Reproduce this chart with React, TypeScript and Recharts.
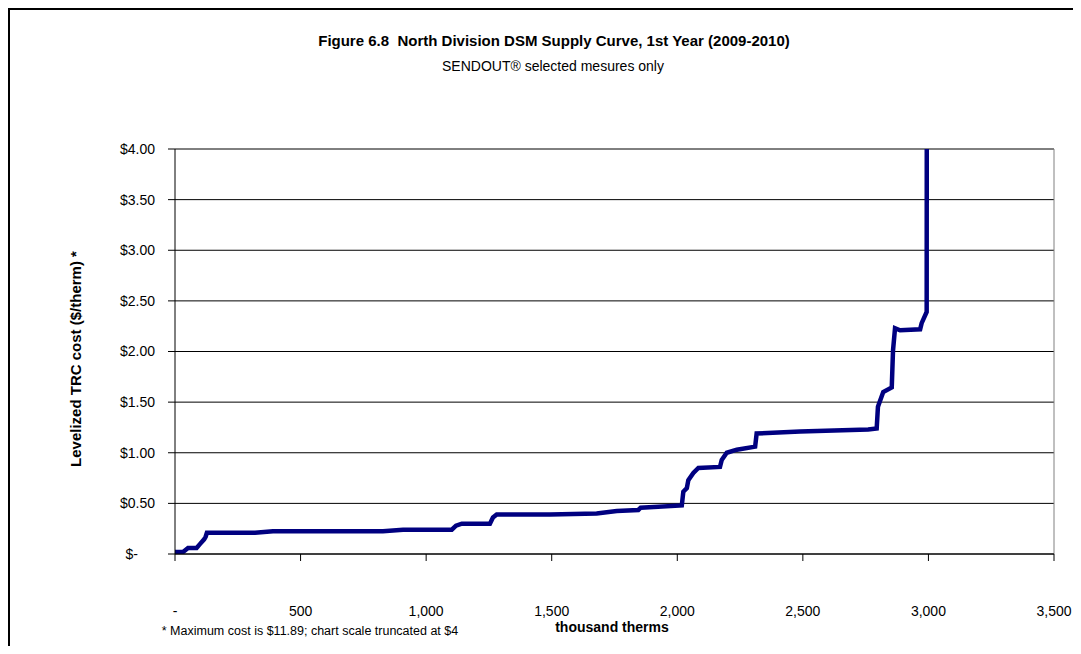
import { CartesianGrid, Line, LineChart, ReferenceLine, XAxis, YAxis } from "recharts";

// thousand therms (cumulative) vs levelized TRC cost ($/therm)
const therms = [
  0, 32, 52, 86, 100, 116, 122, 127, 319, 390, 828, 908, 1102, 1119, 1142, 1254, 1266, 1281, 1493,
  1679, 1759, 1845, 1854, 2018, 2024, 2038, 2044, 2064, 2084, 2170, 2177, 2197, 2237, 2310, 2316,
  2489, 2760, 2794, 2799, 2820, 2854, 2859, 2867, 2887, 2967, 2973, 2993, 2995,
];
const costs = [
  0.02, 0.02, 0.06, 0.06, 0.1, 0.145, 0.17, 0.21, 0.21, 0.225, 0.225, 0.24, 0.24, 0.28, 0.3, 0.3,
  0.36, 0.39, 0.39, 0.4, 0.425, 0.435, 0.457, 0.48, 0.615, 0.65, 0.73, 0.8, 0.85, 0.86, 0.93, 1.0,
  1.03, 1.06, 1.19, 1.21, 1.23, 1.24, 1.455, 1.6, 1.645, 2.01, 2.23, 2.21, 2.22, 2.28, 2.39, 11.89,
];
const xTicks = [0, 500, 1000, 1500, 2000, 2500, 3000, 3500];
const yTicks = [0, 0.5, 1, 1.5, 2, 2.5, 3, 3.5, 4];

const data = therms.map((t, i) => ({ x: t, y: costs[i] }));

const FONT = "'Liberation Sans', Arial, sans-serif";

const YTick = (props: any) => {
  const { x, y, payload } = props;
  const v = payload.value as number;
  const label = v === 0 ? "$-" : "$" + v.toFixed(2);
  return (
    <text x={v === 0 ? x - 17 : x} y={y} dy="0.35em" textAnchor="end" fontSize={14} fill="#000" fontFamily={FONT}>
      {label}
    </text>
  );
};

const xFmt = (v: number) => (v === 0 ? "-" : v.toLocaleString("en-US"));

export default function App() {
  return (
    <div style={{ position: "relative", width: 1065, height: 638, fontFamily: FONT, color: "#000" }}>
      {/* outer chart frame (only left and top edges are in view) */}
      <div style={{ position: "absolute", left: 0, top: 0, width: 1073, height: 2, background: "#000", zIndex: 5 }} />
      <div style={{ position: "absolute", left: 0, top: 0, width: 2, height: 646, background: "#000", zIndex: 5 }} />
      <div style={{ position: "absolute", left: 546, top: 32, transform: "translate(-50%,-50%)", whiteSpace: "nowrap", fontSize: 15, fontWeight: "bold" }}>
        Figure 6.8&nbsp; North Division DSM Supply Curve, 1st Year (2009-2010)
      </div>
      <div style={{ position: "absolute", left: 545, top: 58, transform: "translate(-50%,-50%)", whiteSpace: "nowrap", fontSize: 14 }}>
        SENDOUT® selected mesures only
      </div>
      <LineChart width={1065} height={638} data={data} margin={{ top: 141, right: 19, bottom: 62, left: 107 }}>
        <CartesianGrid vertical={false} stroke="#000" />
        <XAxis
          dataKey="x"
          type="number"
          domain={[0, 3500]}
          ticks={xTicks}
          tickFormatter={xFmt}
          stroke="#000"
          tickSize={7}
          tickMargin={45}
          height={30}
          tick={{ fill: "#000", fontSize: 14, fontFamily: FONT }}
        />
        <YAxis
          type="number"
          domain={[0, 4]}
          ticks={yTicks}
          allowDataOverflow
          stroke="#000"
          tickSize={7}
          tickMargin={13}
          width={60}
          tick={<YTick />}
        />
        <ReferenceLine y={4} stroke="#808080" />
        <ReferenceLine x={3500} stroke="#808080" />
        <Line
          dataKey="y"
          type="linear"
          stroke="#000080"
          strokeWidth={4.5}
          dot={false}
          activeDot={false}
          isAnimationActive={false}
        />
      </LineChart>
      <div
        style={{
          position: "absolute",
          left: 67,
          top: 351,
          transform: "translate(-50%,-50%) rotate(-90deg)",
          whiteSpace: "nowrap",
          fontSize: 15,
          fontWeight: "bold",
        }}
      >
        Levelized TRC cost ($/therm) *
      </div>
      <div style={{ position: "absolute", left: 604, top: 619, transform: "translate(-50%,-50%)", whiteSpace: "nowrap", fontSize: 14, fontWeight: "bold", lineHeight: "15px" }}>
        thousand therms
      </div>
      <div style={{ position: "absolute", left: 302, top: 623, transform: "translate(-50%,-50%)", whiteSpace: "nowrap", fontSize: 12.5 }}>
        * Maximum cost is $11.89; chart scale truncated at $4
      </div>
    </div>
  );
}
